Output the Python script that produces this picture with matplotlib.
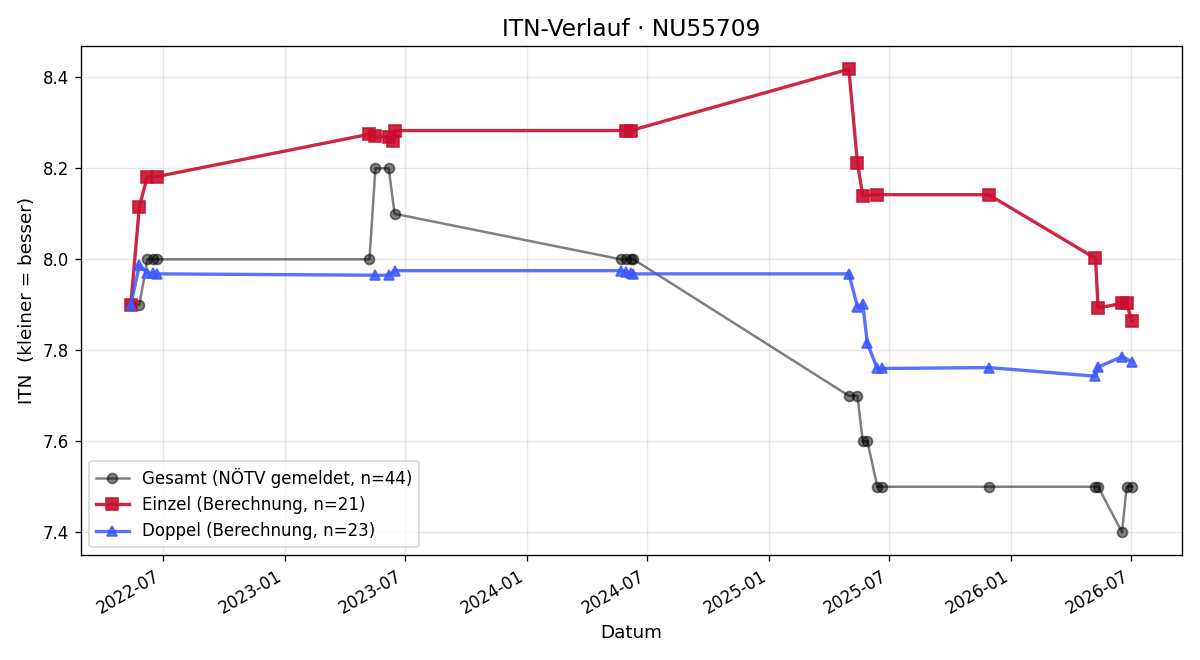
import pandas as pd
import matplotlib.pyplot as plt
import matplotlib.dates as mdates

player_id = "NU55709"

gesamt_dates = [
    "2022-05-14", "2022-05-27", "2022-06-08", "2022-06-16", "2022-06-23",
    "2023-05-09", "2023-05-18", "2023-06-07", "2023-06-16",
    "2024-05-22", "2024-05-30", "2024-06-06", "2024-06-10",
    "2025-05-01", "2025-05-14", "2025-05-22", "2025-05-29", "2025-06-13", "2025-06-20",
    "2025-11-28",
    "2026-05-08", "2026-05-12", "2026-06-17", "2026-06-24", "2026-07-02",
]
gesamt_itn = [
    7.9, 7.9, 8.0, 8.0, 8.0,
    8.0, 8.2, 8.2, 8.1,
    8.0, 8.0, 8.0, 8.0,
    7.7, 7.7, 7.6, 7.6, 7.5, 7.5,
    7.5,
    7.5, 7.5, 7.4, 7.5, 7.5,
]

einzel_dates = [
    "2022-05-14", "2022-05-27", "2022-06-08", "2022-06-23",
    "2023-05-09", "2023-05-18", "2023-06-07", "2023-06-13", "2023-06-16",
    "2024-05-30", "2024-06-06",
    "2025-05-01", "2025-05-14", "2025-05-22", "2025-06-13",
    "2025-11-28",
    "2026-05-08", "2026-05-12", "2026-06-17", "2026-06-24", "2026-07-02",
]
einzel_itn = [
    7.900, 8.116, 8.182, 8.182,
    8.275, 8.270, 8.268, 8.260, 8.283,
    8.283, 8.283,
    8.418, 8.212, 8.140, 8.142,
    8.142,
    8.002, 7.893, 7.903, 7.903, 7.864,
]

doppel_dates = [
    "2022-05-14", "2022-05-27", "2022-06-08", "2022-06-16", "2022-06-23",
    "2023-05-18", "2023-06-08", "2023-06-16",
    "2024-05-22", "2024-05-30", "2024-06-06", "2024-06-10",
    "2025-05-01", "2025-05-14", "2025-05-22", "2025-05-29", "2025-06-13", "2025-06-20",
    "2025-11-28",
    "2026-05-08", "2026-05-12", "2026-06-17", "2026-07-02",
]
doppel_itn = [
    7.900, 7.987, 7.970, 7.970, 7.968,
    7.965, 7.965, 7.975,
    7.975, 7.972, 7.970, 7.968,
    7.968, 7.896, 7.902, 7.815, 7.760, 7.760,
    7.762,
    7.743, 7.763, 7.786, 7.775,
]

fig, ax = plt.subplots(figsize=(10, 5.5), dpi=120)

ax.plot(pd.to_datetime(gesamt_dates), gesamt_itn, marker="o", markersize=6,
        color="black", alpha=0.5, linewidth=1.5,
        label="Gesamt (NÖTV gemeldet, n=44)")
ax.plot(pd.to_datetime(einzel_dates), einzel_itn, marker="s", markersize=7,
        color="#c8102e", alpha=0.9, linewidth=2,
        label="Einzel (Berechnung, n=21)")
ax.plot(pd.to_datetime(doppel_dates), doppel_itn, marker="^", markersize=6.5,
        color="#3d5afe", alpha=0.85, linewidth=2,
        label="Doppel (Berechnung, n=23)")

ax.set_title(f"ITN-Verlauf · {player_id}", fontsize=14)
ax.set_xlabel("Datum", fontsize=11)
ax.set_ylabel("ITN  (kleiner = besser)", fontsize=11)
ax.xaxis.set_major_locator(mdates.MonthLocator(bymonth=[1, 7]))
ax.xaxis.set_major_formatter(mdates.DateFormatter("%Y-%m"))
ax.grid(True, alpha=0.3)
ax.legend(loc="lower left")
fig.autofmt_xdate()
plt.tight_layout()
plt.savefig("out.png", dpi=120)
plt.close()
